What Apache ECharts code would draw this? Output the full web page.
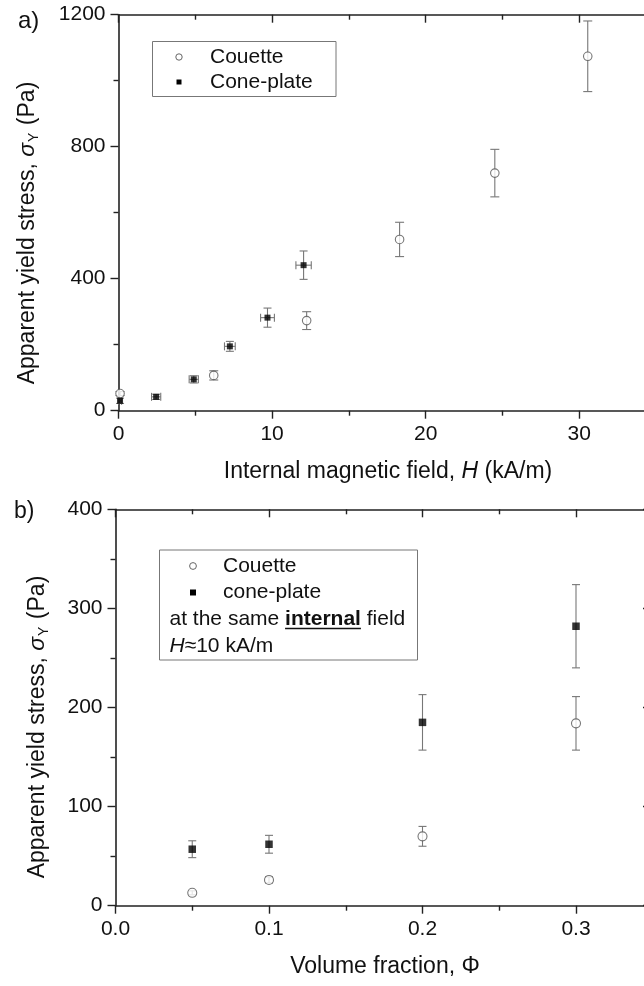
<!DOCTYPE html>
<html>
<head>
<meta charset="utf-8">
<script src="https://cdn.jsdelivr.net/npm/echarts@6/dist/echarts.min.js"></script>
<style>
html,body{margin:0;padding:0;background:#fff;}
#chart{width:644px;height:986px;}
</style>
</head>
<body>
<div id="chart"></div>
<script>
// ---- Panel a data: apparent yield stress vs internal field H (kA/m)
const aCouetteH   = [0.1, 6.2, 12.25, 18.3, 24.5, 30.55];
const aCouetteS   = [52, 107, 273, 519, 720, 1074];
const aCouetteErr = [6, 14, 27, 52, 72, 107];
const aConeH      = [0.1, 2.45, 4.9, 7.25, 9.7, 12.05];
const aConeS      = [30, 42, 95, 195, 282, 441];
const aConeErr    = [8, 8, 11, 15, 29, 43];
const aConeHErr   = [0.1, 0.3, 0.3, 0.35, 0.45, 0.5];
// ---- Panel b data: apparent yield stress vs volume fraction
const bPhi        = [0.05, 0.1, 0.2, 0.3];
const bCouette    = [13, 26, 70, 184];
const bCouetteErr = [2, 3, 10, 27];
const bCone       = [57, 62, 185, 282];
const bConeErr    = [8.5, 9, 28, 42];
// ---- Axis ticks
const aXTicks = {min: 0, max: 40, interval: 10};
const aYTicks = {min: 0, max: 1200, interval: 400};
const bXTicks = {min: 0, max: 0.4, interval: 0.1};
const bYTicks = {min: 0, max: 400, interval: 100};

const FONT = '"Liberation Sans", Arial, Helvetica, sans-serif';
const TXT = '#111';
const AX = '#222';
const ERR = '#777';
const TITLE = 23;

const chart = echarts.init(document.getElementById('chart'), null, {renderer: 'canvas'});

const lineStyle = {color: AX, width: 1.6};
function axisBase(t, grid) {
  return {
    type: 'value', gridIndex: grid, min: t.min, max: t.max, interval: t.interval,
    splitLine: {show: false}, minorSplitLine: {show: false},
    axisLine: {show: true, onZero: false, lineStyle: lineStyle},
    minorTick: {show: true, splitNumber: 2, length: 5, lineStyle: {color: AX, width: 1.4}},
  };
}
function mainAxis(t, grid, pos, fmt) {
  return Object.assign(axisBase(t, grid), {
    position: pos,
    axisTick: {show: true, inside: false, length: 8, lineStyle: {color: AX, width: 1.4}},
    axisLabel: {show: true, margin: 13, fontSize: 21, color: TXT, fontFamily: FONT, formatter: fmt},
  });
}
function frameAxis(t, grid, pos, offset, tickLen) {
  return Object.assign(axisBase(t, grid), {
    position: pos, offset: offset || 0,
    axisTick: {show: true, inside: true, length: tickLen || 8, lineStyle: {color: AX, width: 1.4}},
    minorTick: {show: true, splitNumber: 2, length: 5, lineStyle: {color: AX, width: 1.4}},
    axisLabel: {show: false},
  });
}

function errData(xs, ys, ye, xe) {
  return xs.map((x, i) => [x, ys[i], ye[i], xe ? xe[i] : 0]);
}
function errRender(cap) {
  return function (params, api) {
    const x = api.value(0), y = api.value(1), dy = api.value(2), dx = api.value(3);
    const st = {stroke: ERR, lineWidth: 1.1};
    const ch = [];
    const top = api.coord([x, y + dy]), bot = api.coord([x, y - dy]);
    ch.push({type: 'line', shape: {x1: top[0], y1: top[1], x2: bot[0], y2: bot[1]}, style: st});
    ch.push({type: 'line', shape: {x1: top[0] - cap, y1: top[1], x2: top[0] + cap, y2: top[1]}, style: st});
    ch.push({type: 'line', shape: {x1: bot[0] - cap, y1: bot[1], x2: bot[0] + cap, y2: bot[1]}, style: st});
    if (dx > 0) {
      const l = api.coord([x - dx, y]), r = api.coord([x + dx, y]);
      ch.push({type: 'line', shape: {x1: l[0], y1: l[1], x2: r[0], y2: r[1]}, style: st});
      ch.push({type: 'line', shape: {x1: l[0], y1: l[1] - cap, x2: l[0], y2: l[1] + cap}, style: st});
      ch.push({type: 'line', shape: {x1: r[0], y1: r[1] - cap, x2: r[0], y2: r[1] + cap}, style: st});
    }
    return {type: 'group', children: ch};
  };
}
function pairs(xs, ys) { return xs.map((x, i) => [x, ys[i]]); }

// measure underline for "internal"
const mctx = document.createElement('canvas').getContext('2d');
mctx.font = '21px ' + FONT;
const wPre = mctx.measureText('at the same ').width;
mctx.font = 'bold 21px ' + FONT;
const wInt = mctx.measureText('internal').width;
const legBTextX = 169.5;

const yTitleRich = {
  s: {fontSize: TITLE, fontStyle: 'italic', fontFamily: FONT, fill: TXT, lineHeight: 26},
  sub: {fontSize: 14, fontFamily: FONT, fill: TXT, lineHeight: 15, verticalAlign: 'bottom', padding: [0, 1, 0, 1]}
};
const italRich = {i: {fontSize: TITLE, fontStyle: 'italic', fontFamily: FONT, fill: TXT}};
const italRichL = {i: {fontSize: 21, fontStyle: 'italic', fontFamily: FONT, fill: TXT}};

const graphics = [
  // panel labels
  {type: 'text', x: 18, y: 21, style: {text: 'a)', fontSize: 24, fontFamily: FONT, fill: TXT, align: 'left', verticalAlign: 'middle'}},
  {type: 'text', x: 14, y: 512, style: {text: 'b)', fontSize: 23, fontFamily: FONT, fill: TXT, align: 'left', verticalAlign: 'middle'}},
  // y titles
  {type: 'text', x: 28, y: 233, rotation: Math.PI / 2, style: {
    text: 'Apparent yield stress, {s|σ}{sub|Y} (Pa)', fontSize: TITLE, lineHeight: 26, fontFamily: FONT, fill: TXT,
    align: 'center', verticalAlign: 'middle', rich: yTitleRich}},
  {type: 'text', x: 38, y: 727, rotation: Math.PI / 2, style: {
    text: 'Apparent yield stress, {s|σ}{sub|Y} (Pa)', fontSize: TITLE, lineHeight: 26, fontFamily: FONT, fill: TXT,
    align: 'center', verticalAlign: 'middle', rich: yTitleRich}},
  // x titles
  {type: 'text', x: 388, y: 472, style: {text: 'Internal magnetic field, {i|H} (kA/m)', fontSize: TITLE, fontFamily: FONT, fill: TXT,
    align: 'center', verticalAlign: 'middle', rich: italRich}},
  {type: 'text', x: 385, y: 967, style: {text: 'Volume fraction, Φ', fontSize: TITLE, fontFamily: FONT, fill: TXT,
    align: 'center', verticalAlign: 'middle'}},
  // legend a
  {type: 'rect', shape: {x: 152.5, y: 41.5, width: 183.5, height: 55}, style: {fill: '#fff', stroke: '#777', lineWidth: 1}, z: 10},
  {type: 'circle', shape: {cx: 179, cy: 57, r: 3.2}, style: {fill: '#fff', stroke: '#666', lineWidth: 1}, z: 11},
  {type: 'rect', shape: {x: 176.5, y: 79.5, width: 5, height: 5}, style: {fill: '#000'}, z: 11},
  {type: 'text', x: 210, y: 57, z: 11, style: {text: 'Couette', fontSize: 21, fontFamily: FONT, fill: TXT, verticalAlign: 'middle'}},
  {type: 'text', x: 210, y: 82, z: 11, style: {text: 'Cone-plate', fontSize: 21, fontFamily: FONT, fill: TXT, verticalAlign: 'middle'}},
  // legend b
  {type: 'rect', shape: {x: 159.5, y: 550, width: 258, height: 110}, style: {fill: '#fff', stroke: '#777', lineWidth: 1}, z: 10},
  {type: 'circle', shape: {cx: 193, cy: 566, r: 3.4}, style: {fill: '#fff', stroke: '#666', lineWidth: 1}, z: 11},
  {type: 'rect', shape: {x: 190, y: 589.5, width: 6, height: 6}, style: {fill: '#000'}, z: 11},
  {type: 'text', x: 223, y: 566, z: 11, style: {text: 'Couette', fontSize: 21, fontFamily: FONT, fill: TXT, verticalAlign: 'middle'}},
  {type: 'text', x: 223, y: 592.5, z: 11, style: {text: 'cone-plate', fontSize: 21, fontFamily: FONT, fill: TXT, verticalAlign: 'middle'}},
  {type: 'text', x: legBTextX, y: 619.5, z: 11, style: {text: 'at the same {b|internal} field', fontSize: 21, fontFamily: FONT, fill: TXT, verticalAlign: 'middle',
    rich: {b: {fontSize: 21, fontWeight: 'bold', fontFamily: FONT, fill: TXT}}}},
  {type: 'line', z: 11, shape: {x1: legBTextX + wPre, y1: 628.5, x2: legBTextX + wPre + wInt, y2: 628.5}, style: {stroke: TXT, lineWidth: 1.6}},
  {type: 'text', x: legBTextX, y: 646, z: 11, style: {text: '{i|H}≈10 kA/m', fontSize: 21, fontFamily: FONT, fill: TXT, verticalAlign: 'middle', rich: italRichL}},
];

const option = {
  animation: false,
  backgroundColor: '#fff',
  grid: [
    {left: 118.5, top: 14.7, width: 614.4, height: 396, containLabel: false, outerBoundsMode: 'none'},
    {left: 115.5, top: 509.3, width: 614, height: 396.4, containLabel: false, outerBoundsMode: 'none'}
  ],
  xAxis: [
    mainAxis(aXTicks, 0, 'bottom', v => String(v)),
    frameAxis(aXTicks, 0, 'top'),
    mainAxis(bXTicks, 1, 'bottom', v => v.toFixed(1)),
    frameAxis(bXTicks, 1, 'top'),
  ],
  yAxis: [
    mainAxis(aYTicks, 0, 'left', v => String(v)),
    frameAxis(aYTicks, 0, 'right', -76, 8),
    mainAxis(bYTicks, 1, 'left', v => String(v)),
    frameAxis(bYTicks, 1, 'right', -75.5, 11),
  ],
  series: [
    {type: 'custom', xAxisIndex: 0, yAxisIndex: 0, renderItem: errRender(4.5), data: errData(aCouetteH, aCouetteS, aCouetteErr), z: 1, silent: true},
    {type: 'custom', xAxisIndex: 0, yAxisIndex: 0, renderItem: errRender(4), data: errData(aConeH, aConeS, aConeErr, aConeHErr), z: 1, silent: true},
    {type: 'scatter', name: 'Couette', xAxisIndex: 0, yAxisIndex: 0, data: pairs(aCouetteH, aCouetteS), symbol: 'circle', symbolSize: 8.5,
      itemStyle: {color: '#fff', borderColor: '#555', borderWidth: 1.1}, z: 3},
    {type: 'scatter', name: 'Cone-plate', xAxisIndex: 0, yAxisIndex: 0, data: pairs(aConeH, aConeS), symbol: 'rect', symbolSize: 6,
      itemStyle: {color: '#000'}, z: 3},
    {type: 'custom', xAxisIndex: 2, yAxisIndex: 2, renderItem: errRender(4), data: errData(bPhi, bCouette, bCouetteErr), z: 1, silent: true},
    {type: 'custom', xAxisIndex: 2, yAxisIndex: 2, renderItem: errRender(4), data: errData(bPhi, bCone, bConeErr), z: 1, silent: true},
    {type: 'scatter', name: 'Couette b', xAxisIndex: 2, yAxisIndex: 2, data: pairs(bPhi, bCouette), symbol: 'circle', symbolSize: 9,
      itemStyle: {color: '#fff', borderColor: '#555', borderWidth: 1.1}, z: 3},
    {type: 'scatter', name: 'cone-plate b', xAxisIndex: 2, yAxisIndex: 2, data: pairs(bPhi, bCone), symbol: 'rect', symbolSize: 7.5,
      itemStyle: {color: '#000'}, z: 3},
  ],
  graphic: graphics
};
chart.setOption(option);
</script>
</body>
</html>
